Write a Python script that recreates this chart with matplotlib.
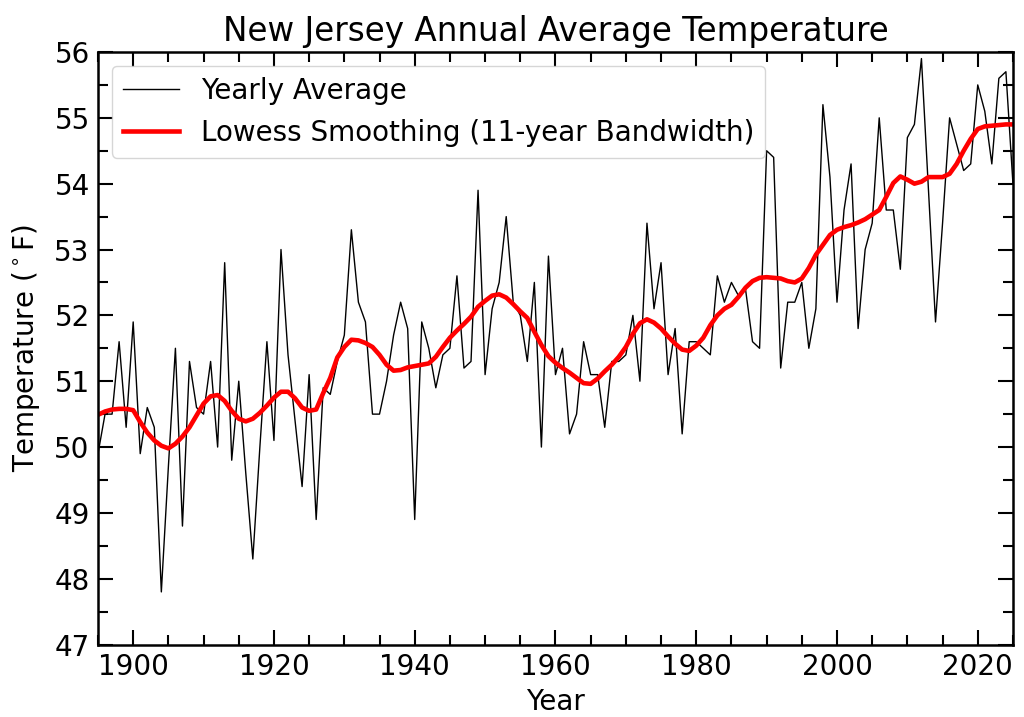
import numpy as np
import matplotlib
matplotlib.use("Agg")
import matplotlib.pyplot as plt
from matplotlib.ticker import MultipleLocator

years = list(range(1895, 2026))

yearly_avg = [
    49.9, 50.5, 50.5, 51.6, 50.3, 51.9, 49.9, 50.6, 50.3, 47.8,   # 1895-1904
    49.7, 51.5, 48.8, 51.3, 50.6, 50.5, 51.3, 50.0, 52.8, 49.8,   # 1905-1914
    51.0, 49.6, 48.3, 50.0, 51.6, 50.1, 53.0, 51.4, 50.4, 49.4,   # 1915-1924
    51.1, 48.9, 50.9, 50.8, 51.3, 51.7, 53.3, 52.2, 51.9, 50.5,   # 1925-1934
    50.5, 51.0, 51.7, 52.2, 51.8, 48.9, 51.9, 51.5, 50.9, 51.4,   # 1935-1944
    51.5, 52.6, 51.2, 51.3, 53.9, 51.1, 52.1, 52.5, 53.5, 52.2,   # 1945-1954
    52.0, 51.3, 52.5, 50.0, 52.9, 51.1, 51.5, 50.2, 50.5, 51.6,   # 1955-1964
    51.1, 51.1, 50.3, 51.3, 51.3, 51.4, 52.0, 51.0, 53.4, 52.1,   # 1965-1974
    52.8, 51.1, 51.8, 50.2, 51.6, 51.6, 51.5, 51.4, 52.6, 52.2,   # 1975-1984
    52.5, 52.3, 52.4, 51.6, 51.5, 54.5, 54.4, 51.2, 52.2, 52.2,   # 1985-1994
    52.5, 51.5, 52.1, 55.2, 54.1, 52.2, 53.6, 54.3, 51.8, 53.0,   # 1995-2004
    53.4, 55.0, 53.6, 53.6, 52.7, 54.7, 54.9, 55.9, 53.9, 51.9,   # 2005-2014
    53.4, 55.0, 54.6, 54.2, 54.3, 55.5, 55.1, 54.3, 55.6, 55.7,   # 2015-2024
    54.0,                                                         # 2025
]

lowess_smooth = [
    50.49, 50.54, 50.57, 50.58, 50.58, 50.56, 50.38, 50.22, 50.10, 50.02,  # 1895-1904
    49.98, 50.05, 50.16, 50.30, 50.48, 50.66, 50.77, 50.79, 50.70, 50.55,  # 1905-1914
    50.43, 50.39, 50.43, 50.52, 50.63, 50.75, 50.84, 50.84, 50.74, 50.60,  # 1915-1924
    50.55, 50.57, 50.82, 51.05, 51.36, 51.52, 51.63, 51.62, 51.58, 51.52,  # 1925-1934
    51.40, 51.25, 51.16, 51.17, 51.21, 51.23, 51.25, 51.27, 51.37, 51.52,  # 1935-1944
    51.66, 51.77, 51.87, 51.98, 52.13, 52.22, 52.30, 52.32, 52.27, 52.17,  # 1945-1954
    52.06, 51.96, 51.75, 51.55, 51.38, 51.28, 51.20, 51.13, 51.05, 50.97,  # 1955-1964
    50.96, 51.04, 51.15, 51.25, 51.37, 51.52, 51.72, 51.88, 51.94, 51.89,  # 1965-1974
    51.80, 51.68, 51.57, 51.48, 51.46, 51.54, 51.66, 51.85, 52.00, 52.10,  # 1975-1984
    52.16, 52.28, 52.42, 52.52, 52.57, 52.58, 52.57, 52.56, 52.52, 52.50,  # 1985-1994
    52.56, 52.72, 52.92, 53.07, 53.22, 53.30, 53.34, 53.37, 53.41, 53.46,  # 1995-2004
    53.53, 53.60, 53.80, 54.01, 54.11, 54.06, 54.00, 54.03, 54.10, 54.10,  # 2005-2014
    54.10, 54.15, 54.30, 54.50, 54.68, 54.83, 54.87, 54.88, 54.89, 54.90,  # 2015-2024
    54.90,                                                                 # 2025
]

x_ticks = [1900, 1920, 1940, 1960, 1980, 2000, 2020]
y_ticks = [47, 48, 49, 50, 51, 52, 53, 54, 55, 56]

plt.rcParams['font.family'] = ['DejaVu Sans']

fig = plt.figure(figsize=(10.24, 7.17), dpi=100)
ax = fig.add_axes([0.0957, 0.1010, 0.8935, 0.8265])

ax.plot(years, yearly_avg, color='black', lw=1.0, label='Yearly Average')
ax.plot(years, lowess_smooth, color='red', lw=3.3,
        label='Lowess Smoothing (11-year Bandwidth)')

ax.set_xlim(1895, 2025)
ax.set_ylim(47, 56)
ax.set_xticks(x_ticks)
ax.set_yticks(y_ticks)
ax.xaxis.set_minor_locator(MultipleLocator(5))
ax.yaxis.set_minor_locator(MultipleLocator(0.5))

ax.tick_params(which='both', direction='in', top=True, right=True,
               labelsize=20, width=1.5)
ax.tick_params(which='major', length=11, pad=6)
ax.tick_params(which='minor', length=7)
for s in ax.spines.values():
    s.set_linewidth(1.8)

ax.set_title('New Jersey Annual Average Temperature', fontsize=23.5, pad=8)
ax.set_xlabel('Year', fontsize=20, labelpad=5)
ax.set_ylabel(r'Temperature ($^\circ$F)', fontsize=20, labelpad=9)

ax.legend(loc='upper left', fontsize=20, borderaxespad=0.5)

fig.savefig('out.png', dpi=100)
